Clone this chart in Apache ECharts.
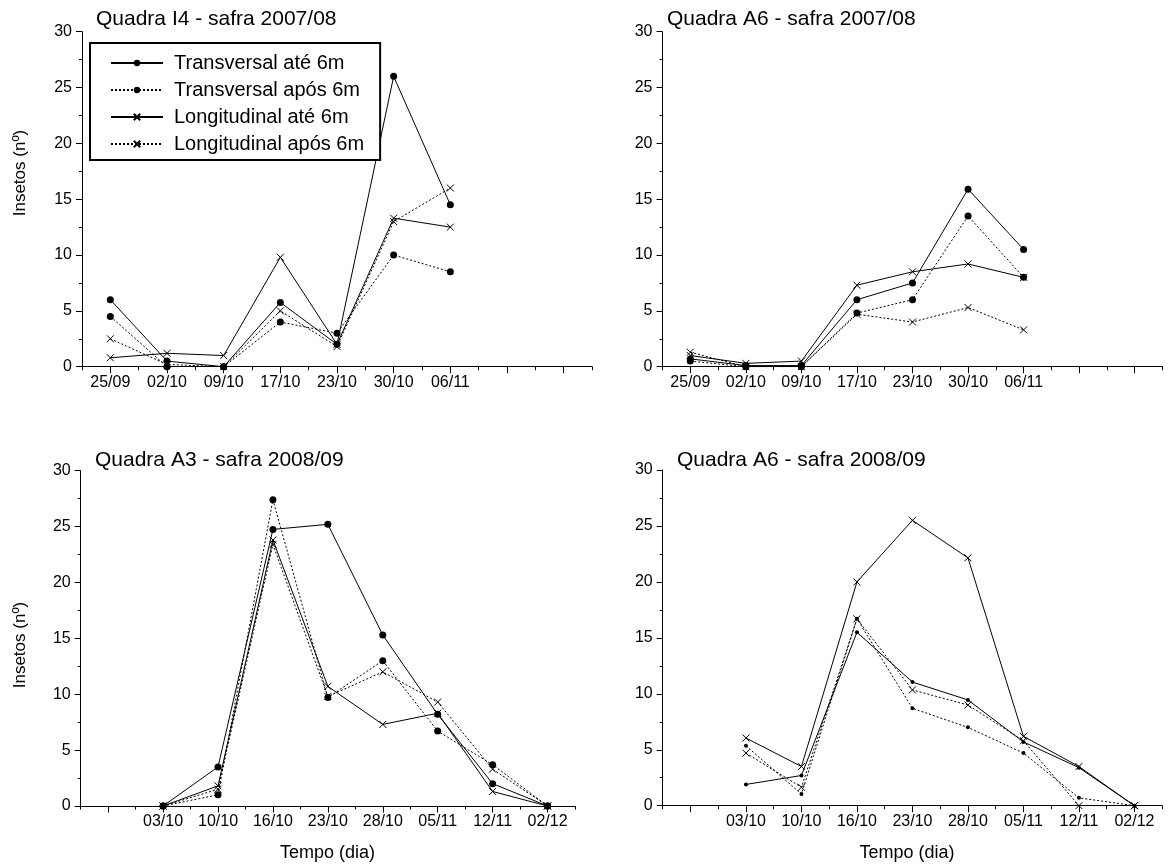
<!DOCTYPE html>
<html>
<head>
<meta charset="utf-8">
<script src="https://cdn.jsdelivr.net/npm/echarts@6/dist/echarts.min.js"></script>
<style>
html,body{margin:0;padding:0;background:#fff;}
#c{width:1173px;height:868px;}
</style>
</head>
<body>
<div id="c"></div>
<script>
// ---- tick labels / categories ----
const catTop = ['25/09','02/10','09/10','17/10','23/10','30/10','06/11','',''];
const catBottom = ['','03/10','10/10','16/10','23/10','28/10','05/11','12/11','02/12'];
const yTicks = [0,5,10,15,20,25,30];

const seriesNames = ['Transversal até 6m','Transversal após 6m','Longitudinal até 6m','Longitudinal após 6m'];
const panelTitles = ['Quadra I4 - safra 2007/08','Quadra A6 - safra 2007/08','Quadra A3 - safra 2008/09','Quadra A6 - safra 2008/09'];

// ---- Quadra I4 2007/08 ----
const i4TransAte  = [6, 0.5, 0, 5.75, 2, 26, 14.5];
const i4TransApos = [4.5, 0, 0, 4, 3, 10, 8.5];
const i4LongAte   = [0.8, 1.2, 1.0, 9.8, 2, 13.3, 12.5];
const i4LongApos  = [2.5, 0.2, 0, 5, 1.8, 13, 16];

// ---- Quadra A6 2007/08 ----
const a6aTransAte  = [0.7, 0.1, 0.1, 6, 7.5, 15.9, 10.5];
const a6aTransApos = [0.5, 0, 0, 4.8, 6, 13.5, 8];
const a6aLongAte   = [1.0, 0.3, 0.5, 7.3, 8.5, 9.2, 8];
const a6aLongApos  = [1.3, 0, 0, 4.7, 4, 5.3, 3.3];

// ---- Quadra A3 2008/09 ----
const a3TransAte  = [null, 0, 3.5, 24.75, 25.2, 15.3, 8.2, 2, 0];
const a3TransApos = [null, 0, 1.0, 27.4, 9.7, 13, 6.7, 3.7, 0];
const a3LongAte   = [null, 0, 1.8, 23.8, 10.7, 7.3, 8.3, 1.3, 0];
const a3LongApos  = [null, 0, 1.5, 23.4, 9.8, 12, 9.3, 3.3, 0];

// ---- Quadra A6 2008/09 ----
const a6bTransAte  = [null, 1.9, 2.7, 15.5, 11.05, 9.45, 5.7, 3.4, 0];
const a6bTransApos = [null, 5.35, 1.05, 16.7, 8.7, 7.0, 4.7, 0.7, 0];
const a6bLongAte   = [null, 6.05, 3.5, 20, 25.5, 22.15, 6.2, 3.5, 0];
const a6bLongApos  = [null, 4.7, 1.65, 16.7, 10.35, 9.0, 5.8, 0, 0];

const panelData = [
  [i4TransAte, i4TransApos, i4LongAte, i4LongApos],
  [a6aTransAte, a6aTransApos, a6aLongAte, a6aLongApos],
  [a3TransAte, a3TransApos, a3LongAte, a3LongApos],
  [a6bTransAte, a6bTransApos, a6bLongAte, a6bLongApos]
];
const panelCats = [catTop, catTop, catBottom, catBottom];

// ---- layout ----
const FONT = '"Liberation Sans", Arial, Helvetica, sans-serif';
const grids = [
  {left: 82, top: 31.7, width: 510, height: 335},
  {left: 662.5, top: 31.7, width: 500, height: 335},
  {left: 80.7, top: 470.7, width: 494.3, height: 335.3},
  {left: 662.7, top: 470, width: 499.5, height: 335.7}
];
const CROSS = 'path://M0,0L10,10M10,0L0,10';
const dotSize = [7, 7, 7, 4];

const xAxes = [], yAxes = [], series = [];
grids.forEach((g, i) => {
  // main x axis (labels + major ticks)
  xAxes.push({
    type: 'category', gridIndex: i, position: 'bottom', offset: 0,
    data: panelCats[i], boundaryGap: true,
    axisLine: {show: true, lineStyle: {color: '#000', width: 1}},
    axisTick: {show: true, alignWithLabel: true, length: 6.5, lineStyle: {color: '#000'}},
    axisLabel: {show: true, interval: 0, color: '#000', fontSize: 16, fontFamily: FONT, margin: 8},
    splitLine: {show: false}
  });
  // minor x ticks (band boundaries)
  xAxes.push({
    type: 'category', gridIndex: i, position: 'bottom', offset: 0,
    data: panelCats[i], boundaryGap: true,
    axisLine: {show: false},
    axisTick: {show: true, length: 3.5, interval: 0, lineStyle: {color: '#000'}},
    axisLabel: {show: false},
    splitLine: {show: false}
  });
  yAxes.push({
    type: 'value', gridIndex: i, position: 'left',
    min: yTicks[0], max: yTicks[yTicks.length - 1], interval: 5,
    axisLine: {show: true, lineStyle: {color: '#000', width: 1}},
    axisTick: {show: true, length: 6, lineStyle: {color: '#000'}},
    minorTick: {show: true, splitNumber: 2, length: 3, lineStyle: {color: '#000'}},
    axisLabel: {color: '#000', fontSize: 16, fontFamily: FONT, margin: 10},
    splitLine: {show: false}, minorSplitLine: {show: false}
  });
  panelData[i].forEach((arr, k) => {
    const isCross = k >= 2;
    const dotted = (k % 2) === 1;
    series.push({
      name: seriesNames[k], type: 'line',
      xAxisIndex: i * 2, yAxisIndex: i,
      data: arr,
      symbol: isCross ? CROSS : 'circle',
      symbolSize: isCross ? 7 : dotSize[i],
      showSymbol: true,
      connectNulls: false,
      lineStyle: {color: '#000', width: 1, type: dotted ? [2, 2] : 'solid'},
      itemStyle: {color: '#000', borderColor: '#000', borderWidth: isCross ? 1 : 0},
      emphasis: {disabled: true},
      z: 3
    });
  });
});

const titles = [
  {text: panelTitles[0], left: 96, top: 9},
  {text: panelTitles[1], left: 667, top: 9},
  {text: panelTitles[2], left: 95, top: 450},
  {text: panelTitles[3], left: 677, top: 450}
].map(t => Object.assign(t, {padding: 0, textStyle: {fontSize: 21, fontWeight: 'normal', color: '#000', fontFamily: FONT}}));

const option = {
  animation: false,
  backgroundColor: '#fff',
  title: titles,
  legend: {
    data: seriesNames,
    orient: 'vertical', left: 90, top: 43,
    itemWidth: 52, itemHeight: 8, itemGap: 7,
    padding: [10, 16, 6, 20],
    borderColor: '#000', borderWidth: 2, backgroundColor: '#fff',
    selectedMode: false,
    textStyle: {fontSize: 20, color: '#000', fontFamily: FONT, padding: [0, 0, 0, 6]}
  },
  grid: grids.map(g => Object.assign({containLabel: false}, g)),
  xAxis: xAxes,
  yAxis: yAxes,
  series: series,
  graphic: [
    {type: 'text', x: 20, y: 173, rotation: Math.PI / 2, style: {text: 'Insetos (nº)', font: '17px ' + FONT, fill: '#000', align: 'center', verticalAlign: 'middle'}},
    {type: 'text', x: 20, y: 645, rotation: Math.PI / 2, style: {text: 'Insetos (nº)', font: '17px ' + FONT, fill: '#000', align: 'center', verticalAlign: 'middle'}},
    {type: 'text', x: 327.5, y: 853, style: {text: 'Tempo (dia)', font: '18px ' + FONT, fill: '#000', align: 'center', verticalAlign: 'middle'}},
    {type: 'text', x: 907, y: 853, style: {text: 'Tempo (dia)', font: '18px ' + FONT, fill: '#000', align: 'center', verticalAlign: 'middle'}}
  ]
};

const chart = echarts.init(document.getElementById('c'), null, {renderer: 'canvas'});
chart.setOption(option);
</script>
</body>
</html>
